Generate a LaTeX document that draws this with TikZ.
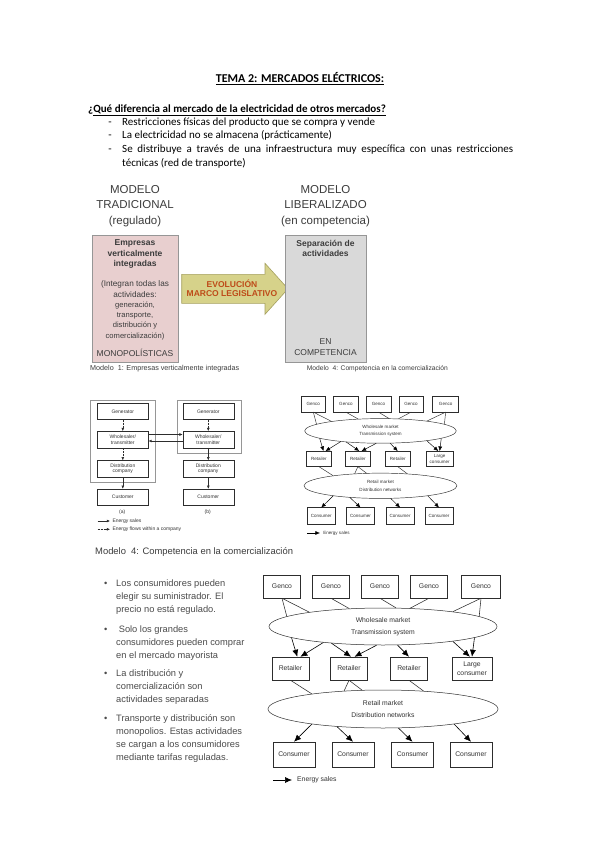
\documentclass[tikz,border=0pt]{standalone}
\usepackage{fontspec}
\setmainfont{Carlito}
\newfontfamily\arialf{Liberation Sans}
\usetikzlibrary{arrows.meta,backgrounds,shapes.geometric}
\newcommand\fsz[2]{\fontsize{#1}{#2}\selectfont}
\definecolor{txtdark}{RGB}{50,50,50}
\definecolor{headgray}{RGB}{60,60,60}
\definecolor{bulletgray}{RGB}{75,75,75}
\definecolor{pinkfill}{RGB}{232,207,207}
\definecolor{boxgray}{RGB}{217,217,217}
\definecolor{edgegray}{RGB}{150,150,150}
\definecolor{arrowfill}{RGB}{214,210,138}
\definecolor{arrowedge}{RGB}{165,160,95}
\definecolor{evored}{RGB}{190,75,25}
\definecolor{linegray}{RGB}{45,45,45}

\newcommand\modelfour[1]{%
  \node[mbox,gbox] (#1g1) at (17,12.5) {Genco};
  \node[mbox,gbox] (#1g2) at (66,12.5) {Genco};
  \node[mbox,gbox] (#1g3) at (115,12.5) {Genco};
  \node[mbox,gbox] (#1g4) at (164,12.5) {Genco};
  \node[mbox,gbox,minimum width=39] (#1g5) at (216,12.5) {Genco};
  \node[mell,minimum width=228,minimum height=37] (#1wm) at (118,52.5) {Wholesale market\\Transmission system};
  \node[mbox,gbox] (#1r1) at (25.5,94.5) {Retailer};
  \node[mbox,gbox] (#1r2) at (84,94.5) {Retailer};
  \node[mbox,gbox] (#1r3) at (144,94.5) {Retailer};
  \node[mbox,gbox,minimum width=40] (#1lc) at (207,94.5) {Large\\consumer};
  \node[mell,minimum width=230,minimum height=38] (#1rm) at (118,135) {Retail market\\Distribution networks};
  \node[mbox,cbox] (#1c1) at (29,180.5) {Consumer};
  \node[mbox,cbox] (#1c2) at (88,180.5) {Consumer};
  \node[mbox,cbox] (#1c3) at (147.5,180.5) {Consumer};
  \node[mbox,cbox] (#1c4) at (206,180.5) {Consumer};
  % gencos to wholesale market
  \draw[conn] (#1g1.south) -- (#1wm.169.7);
  \draw[conn] (#1g1.south) -- (#1wm.174);
  \draw[sales] (#1wm.187) -- (#1r1.60);
  \draw[conn] (#1g2.south) -- (#1wm.152.6);
  \draw[conn] (#1g3.south) -- (#1wm.55.3);
  \draw[conn] (#1g4.south) -- (#1wm.34.6);
  \draw[conn] (#1g5.south) -- (#1wm.12.9);
  \draw[conn] (#1g5.south) -- (#1wm.6);
  \draw[sales] (#1wm.-7) -- (#1lc.north);
  % wholesale market to retailers
  \draw[sales] (#1wm.195.7) -- (#1r1.50);
  \draw[sales] (#1wm.198.8) -- (#1r2.80);
  \draw[sales] (#1wm.-109.5) -- (#1r2.65);
  \draw[sales] (#1wm.-52.4) -- (#1r3.north);
  \draw[sales] (#1wm.-12.8) -- (#1lc.100);
  % retailers to retail market
  \draw[conn] (#1r1.south) -- (#1rm.168.6);
  \draw[conn] (#1r2.south) -- (#1rm.155.7);
  \draw[conn] (#1r2.south) -- (#1rm.138.3);
  \draw[conn] (#1r3.south) -- (#1rm.24.4);
  % retail market to consumers
  \draw[sales] (#1rm.192.4) -- (#1c1.north);
  \draw[sales] (#1rm.201.6) -- (#1c2.north);
  \draw[sales] (#1rm.-51.6) -- (#1c3.north);
  \draw[sales] (#1rm.-12.5) -- (#1c4.north);
  % legend
  \coordinate (#1l1) at (8,206);
  \coordinate (#1l2) at (27,206);
  \draw[sales] (#1l1) -- (#1l2);
  \node[anchor=west,inner sep=0pt,font=\arialf\fsz{6.8}{8},text=txtdark] (#1lt) at (32,206) {Energy sales};
}

\begin{document}
\begin{tikzpicture}[x=1pt,y=-1pt,
  mbox/.style={draw=linegray,line width=0.5pt,fill=white,inner sep=0pt,align=center,font=\arialf\fsz{6.8}{8.5},text=txtdark},
  gbox/.style={minimum width=37,minimum height=23},
  cbox/.style={minimum width=42,minimum height=25},
  mell/.style={ellipse,draw=linegray,line width=0.5pt,fill=white,inner sep=0pt,align=center,font=\arialf\fsz{6.8}{11.5},text=txtdark},
  conn/.style={draw=linegray,line width=0.55pt},
  sales/.style={color=black,line width=0.6pt,-{Latex[length=7pt,width=6pt,fill=black]}},
  sbox/.style={draw=linegray,line width=0.4pt,fill=white,inner sep=0pt,align=center,font=\arialf\fsz{5}{5.8},text=txtdark,minimum width=51,minimum height=16.5},
  ssol/.style={draw=linegray,line width=0.45pt,-{Latex[length=3.2pt,width=2.8pt]}},
  sdot/.style={ssol,densely dotted},
  outerbox/.style={draw=edgegray,line width=0.4pt,inner sep=0pt},
  bodytxt/.style={inner sep=0pt,font=\fsz{11}{13.5}},
  btxt/.style={inner sep=0pt,anchor=north west,align=left,font=\arialf\fsz{9.3}{13},text=bulletgray},
  bdot/.style={inner sep=0pt,anchor=base,font=\arialf\fsz{9.3}{13},text=bulletgray},
]
\begin{scope}[on background layer]
  \fill[white] (0,0) rectangle (599,848);
\end{scope}
\path[use as bounding box] (0,0) rectangle (599,848);

% ---------- header text ----------
\node[anchor=base,inner sep=0pt,font=\bfseries\fsz{12}{14}] (title) at (300,83) {\underline{TEMA 2: MERCADOS ELÉCTRICOS:}};
\node[anchor=base west,inner sep=0pt,font=\bfseries\fsz{11}{13}] (question) at (88,112.5) {¿\underline{Qué diferencia al mercado de la electricidad de otros mercados?}};
\node[bodytxt,anchor=base] (d1) at (110,125.5) {-};
\node[bodytxt,anchor=base] (d2) at (110,139) {-};
\node[bodytxt,anchor=base] (d3) at (110,152.5) {-};
\node[bodytxt,anchor=base west] (l1) at (122,125.5) {Restricciones físicas del producto que se compra y vende};
\node[bodytxt,anchor=base west] (l2) at (122,139) {La electricidad no se almacena (prácticamente)};
\node[bodytxt,anchor=base west] (l3) at (122,152.5) {\makebox[391pt][s]{Se distribuye a través de una infraestructura muy específica con unas restricciones}};
\node[bodytxt,anchor=base west] (l4) at (122,166) {técnicas (red de transporte)};

% ---------- top diagram ----------
\node[anchor=north,align=center,inner sep=0pt,font=\arialf\fsz{11.5}{15.3},text=headgray] (hleft) at (135,185.3) {MODELO\\TRADICIONAL\\(regulado)};
\node[anchor=north,align=center,inner sep=0pt,font=\arialf\fsz{11.5}{15.3},text=headgray] (hright) at (325.5,185.3) {MODELO\\LIBERALIZADO\\(en competencia)};

\node[draw=edgegray,fill=pinkfill,line width=0.6pt,minimum width=86,minimum height=127,inner sep=0pt] (pbox) at (135,298.5) {};
\node[anchor=north,align=center,inner sep=0pt,font=\arialf\bfseries\fsz{8.5}{10.5},text=headgray] (pt1) at (135,239.6) {Empresas\\verticalmente\\integradas};
\node[anchor=north,align=center,inner sep=0pt,font=\arialf\fsz{8.2}{11},text=headgray] (pt2) at (135,280.5) {(Integran todas las\\actividades:};
\node[anchor=north,align=center,inner sep=0pt,font=\arialf\fsz{7.6}{10.3},text=headgray] (pt3) at (135,301.5) {generación,\\transporte,\\distribución y\\comercialización)};
\node[anchor=base,inner sep=0pt,font=\arialf\fsz{8.5}{10},text=headgray] (pt4) at (135,356) {MONOPOLÍSTICAS};

\filldraw[fill=arrowfill,draw=arrowedge,line width=0.6pt] (181.7,274.3) -- (265,274.3) -- (265,263.3) -- (288,288.8) -- (265,314.3) -- (265,303.3) -- (181.7,303.3) -- cycle;
\node[align=center,inner sep=0pt,font=\arialf\bfseries\fsz{8.5}{9.3},text=evored] (evo) at (232,288.5) {EVOLUCIÓN\\MARCO LEGISLATIVO};

\node[draw=edgegray,fill=boxgray,line width=0.6pt,minimum width=81,minimum height=127,inner sep=0pt] (libbox) at (325.5,298.5) {};
\node[anchor=north,align=center,inner sep=0pt,font=\arialf\bfseries\fsz{8.5}{10.5},text=headgray] (lt1) at (325.5,239.6) {Separación de\\actividades};
\node[anchor=north,align=center,inner sep=0pt,font=\arialf\fsz{8.5}{11},text=headgray] (lt2) at (325.5,338.9) {EN\\COMPETENCIA};

\node[anchor=base west,inner sep=0pt,font=\arialf\fsz{7.2}{8},text=headgray] (cap1) at (90,370.5) {Modelo~ 1: Empresas verticalmente integradas};
\node[anchor=base west,inner sep=0pt,font=\arialf\fsz{6.7}{8},text=headgray] (cap2) at (306.7,370.8) {Modelo~ 4: Competencia en la comercialización};

% ---------- small diagram (a)/(b) ----------
\node[outerbox,minimum width=65,minimum height=82] (outa) at (122.5,441) {};
\node[outerbox,minimum width=64.3,minimum height=52.7] (outb) at (208.85,426.35) {};
\node[sbox] (ga) at (122.8,411.3) {Generator};
\node[sbox] (wa) at (122.8,439.5) {Wholesaler/\\transmitter};
\node[sbox] (da) at (122.8,468.7) {Distribution\\company};
\node[sbox] (ca) at (122.8,497.2) {Customer};
\node[sbox] (gb) at (208.3,411.3) {Generator};
\node[sbox] (wb) at (208.3,439.5) {Wholesaler/\\transmitter};
\node[sbox] (db) at (208.3,468.7) {Distribution\\company};
\node[sbox] (cb) at (208.3,497.2) {Customer};
\draw[sdot] (ga) -- (wa);
\draw[sdot] (wa) -- (da);
\draw[ssol] (da) -- (ca);
\draw[sdot] (gb) -- (wb);
\draw[ssol] (wb) -- (db);
\draw[ssol] (db) -- (cb);
\draw[ssol] ([yshift=5pt]wa.east) -- ([yshift=5pt]wb.west);
\draw[ssol] ([yshift=-1.5pt]wb.west) -- ([yshift=-1.5pt]wa.east);
\node[inner sep=0pt,font=\arialf\fsz{5}{6},text=txtdark] (laba) at (122.3,512.7) {(a)};
\node[inner sep=0pt,font=\arialf\fsz{5}{6},text=txtdark] (labb) at (207.7,512.7) {(b)};
\coordinate (lga1) at (97.7,521);
\coordinate (lga2) at (110,521);
\coordinate (lgb1) at (97.7,529.3);
\coordinate (lgb2) at (110,529.3);
\draw[ssol] (lga1) -- (lga2);
\draw[sdot] (lgb1) -- (lgb2);
\node[anchor=west,inner sep=0pt,font=\arialf\fsz{5}{6},text=txtdark] (lgat) at (112.3,521) {Energy sales};
\node[anchor=west,inner sep=0pt,font=\arialf\fsz{5}{6},text=txtdark] (lgbt) at (112.3,529.3) {Energy flows within a company};

% ---------- small model 4 diagram ----------
\begin{scope}[shift={(302,396)},scale=0.665,transform shape,
  conn/.append style={line width=0.45pt},
  mbox/.append style={line width=0.45pt},
  mell/.append style={line width=0.45pt},
  sales/.style={color=black,line width=0.45pt,-{Latex[length=4.6pt,width=4pt,fill=black]}}]
  \modelfour{S}
\end{scope}

% ---------- lower section ----------
\node[anchor=base west,inner sep=0pt,font=\arialf\fsz{9.4}{11},text=headgray] (hm4) at (95,554.3) {Modelo~ 4: Competencia en la comercialización};

\node[bdot] (bd1) at (105.7,586.6) {•};
\node[bdot] (bd2) at (105.7,632.6) {•};
\node[bdot] (bd3) at (105.7,676.6) {•};
\node[bdot] (bd4) at (105.7,721.6) {•};
\node[btxt] (bt1) at (116,579.8) {Los consumidores pueden\\elegir su suministrador. El\\precio no está regulado.};
\node[btxt] (bt2) at (116,625.8) {\hspace*{2.6pt}Solo los grandes\\consumidores pueden comprar\\en el mercado mayorista};
\node[btxt] (bt3) at (116,669.8) {La distribución y\\comercialización son\\actividades separadas};
\node[btxt] (bt4) at (116,714.8) {Transporte y distribución son\\monopolios. Estas actividades\\se cargan a los consumidores\\mediante tarifas reguladas.};

\begin{scope}[shift={(265,574)}]
  \modelfour{B}
\end{scope}
\end{tikzpicture}
\end{document}
